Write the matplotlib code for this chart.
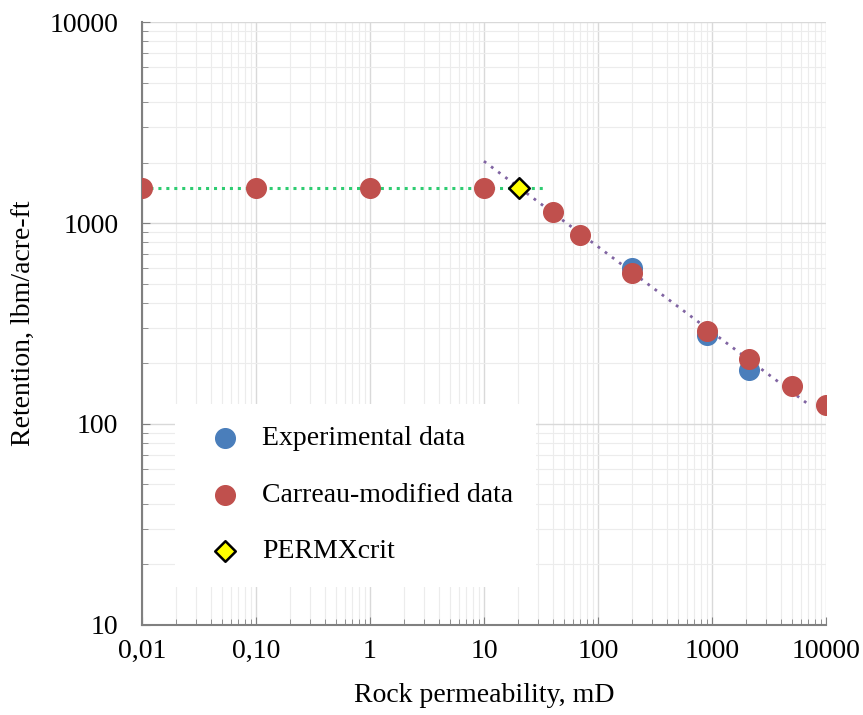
import numpy as np
import matplotlib.pyplot as plt
from matplotlib.ticker import FixedLocator, LogLocator, NullFormatter

plt.rcParams['font.family'] = ['Liberation Serif', 'DejaVu Serif']

# data
exp_perm = [200, 900, 2100]
exp_retention = [600, 278, 186]

carreau_perm = [0.01, 0.1, 1, 10, 40, 70, 200, 900, 2100, 5000, 10000]
carreau_retention = [1500, 1500, 1500, 1500, 1135, 870, 565, 290, 210, 155, 124]

crit_perm = [20.5]
crit_retention = [1500]

plateau_x = [0.01, 36]
plateau_y = [1500, 1500]

trend_x = [10, 6800]
trend_y = [2030, 127]

x_ticks = [0.01, 0.1, 1, 10, 100, 1000, 10000]
x_tick_labels = ['0,01', '0,10', '1', '10', '100', '1000', '10000']
y_ticks = [10, 100, 1000, 10000]
y_tick_labels = ['10', '100', '1000', '10000']

fig = plt.figure(figsize=(8.63, 7.15), dpi=100)
ax = fig.add_axes([0.1645, 0.1259, 0.7925, 0.8433])

ax.set_xscale('log')
ax.set_yscale('log')
ax.set_xlim(0.01, 10000)
ax.set_ylim(10, 10000)

ax.plot(plateau_x, plateau_y, linestyle=(0, (1, 1.6)), color='#2ecc71', linewidth=2.2, zorder=2)
ax.plot(trend_x, trend_y, linestyle=(0, (1, 2.2)), color='#8064A2', linewidth=2.0, zorder=2)

ax.scatter(exp_perm, exp_retention, s=200, color='#4A7EBB', zorder=3, label='Experimental data')
ax.scatter(carreau_perm, carreau_retention, s=200, color='#C0504D', zorder=4, label='Carreau-modified data')
ax.scatter(crit_perm, crit_retention, s=110, marker='D', facecolor='#FFFF00', edgecolor='black',
           linewidth=1.8, zorder=5, label='PERMXcrit')

ax.xaxis.set_major_locator(FixedLocator(x_ticks))
ax.set_xticklabels(x_tick_labels)
ax.yaxis.set_major_locator(FixedLocator(y_ticks))
ax.set_yticklabels(y_tick_labels)
ax.xaxis.set_minor_locator(LogLocator(base=10, subs=np.arange(2, 10), numticks=20))
ax.yaxis.set_minor_locator(LogLocator(base=10, subs=np.arange(2, 10), numticks=20))
ax.xaxis.set_minor_formatter(NullFormatter())
ax.yaxis.set_minor_formatter(NullFormatter())

ax.grid(True, which='major', color='#d9d9d9', linewidth=1.0)
ax.grid(True, which='minor', color='#ececec', linewidth=0.8)
ax.set_axisbelow(True)

for side in ['top', 'right']:
    ax.spines[side].set_visible(False)
for side in ['left', 'bottom']:
    ax.spines[side].set_color('#808080')
    ax.spines[side].set_linewidth(1.5)

ax.tick_params(which='major', direction='in', length=6, color='#808080', labelsize=20)
ax.tick_params(axis='y', which='major', pad=17)
ax.tick_params(axis='x', which='major', pad=10)
ax.tick_params(which='minor', direction='in', length=4, color='#808080')

ax.set_xlabel('Rock permeability, mD', fontsize=20, labelpad=14)
ax.set_ylabel('Retention, lbm/acre-ft', fontsize=20, labelpad=10)

leg = ax.legend(loc='upper left', bbox_to_anchor=(0.048, 0.367), fontsize=20, frameon=True,
                facecolor='white', edgecolor='none', framealpha=1, fancybox=False,
                handletextpad=0.35, labelspacing=1.12, borderpad=0.8, borderaxespad=0)

fig.savefig('out.png', dpi=100)
